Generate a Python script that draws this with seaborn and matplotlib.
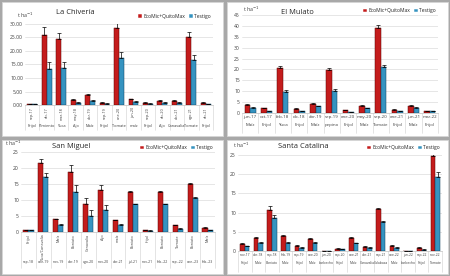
import numpy as np
import pandas as pd
import seaborn as sns
import matplotlib.pyplot as plt
from matplotlib.patches import Rectangle
import matplotlib.transforms as mtransforms

series = ["EcoMic+QuitoMax", "Testigo"]
colors = ["#e00000", "#1e9bd7"]
edges = ["#5a0000", "#0d3f5e"]

# La Chivería
chiv_dates = ["sep-17", "dic-17", "mar-18", "may-18", "abr-19", "sep-19", "ene-20",
              "jun-20", "sep-20", "dic-20", "abr-21", "ago-21", "dic-21"]
chiv_crops = ["Frijol", "Pimiento", "Yuca", "Ajo", "Maíz", "Frijol", "Tomate",
              "maíz", "Frijol", "Ajo", "Canavalia", "Tomate", "Frijol"]
chiv_eco = [0.4, 26.0, 24.5, 1.8, 3.7, 0.9, 28.5, 2.1, 0.9, 1.6, 1.5, 25.2, 0.9]
chiv_tes = [0.3, 13.3, 13.8, 0.9, 1.4, 0.5, 17.5, 1.2, 0.5, 0.8, 0.9, 16.7, 0.4]
chiv_eco_err = [0.1, 2.8, 2.3, 0.3, 0.3, 0.2, 2.2, 0.3, 0.2, 0.3, 0.2, 1.8, 0.2]
chiv_tes_err = [0.1, 2.8, 2.3, 0.2, 0.3, 0.1, 2.3, 0.2, 0.1, 0.2, 0.2, 1.8, 0.1]

# El Mulato
mul_dates = ["jun-17", "oct-17", "feb-18", "dic-18", "abr-19", "sep-19", "ene-20",
             "may-20", "sep-20", "ene-21", "jun-21", "mar-22"]
mul_crops = ["Maíz", "Frijol", "Yuca", "Frijol", "Maíz", "pepino", "Frijol",
             "Maíz", "Tomate", "Frijol", "Maíz", "Frijol"]
mul_eco = [3.8, 2.2, 20.5, 1.9, 4.1, 19.7, 1.3, 3.4, 39.2, 1.6, 3.2, 1.0]
mul_tes = [2.4, 0.9, 9.5, 1.0, 3.0, 10.0, 0.5, 2.1, 21.2, 0.9, 2.3, 0.8]
mul_eco_err = [0.3, 0.2, 1.0, 0.2, 0.3, 0.8, 0.2, 0.3, 1.0, 0.2, 0.3, 0.1]
mul_tes_err = [0.3, 0.1, 1.0, 0.1, 0.3, 0.8, 0.1, 0.2, 1.0, 0.1, 0.3, 0.1]

# San Miguel
sm_dates = ["sep-18", "ene-19", "nov-19", "abr-19", "ago-20", "nov-20", "abr-21",
            "jul-21", "nov-21", "feb.-22", "sep.-22", "ene.-23", "feb.-23"]
sm_crops = ["Frijol", "Yuca/Canavalia", "Maíz", "Boniato", "Canavalia", "Ajo", "maíz",
            "Boniato", "frijol", "Boniato", "Tomate", "Boniato", "Maíz"]
sm_eco = [0.5, 21.5, 4.0, 18.7, 8.8, 13.0, 3.6, 12.5, 0.5, 12.5, 2.1, 15.0, 1.4]
sm_tes = [0.5, 17.3, 2.3, 12.5, 5.0, 6.9, 2.2, 8.7, 0.4, 8.7, 1.0, 10.7, 0.5]
sm_eco_err = [0.1, 1.2, 0.2, 2.2, 1.8, 1.6, 0.2, 0.2, 0.1, 0.2, 0.1, 0.3, 0.2]
sm_tes_err = [0.1, 1.2, 0.2, 2.2, 1.8, 1.6, 0.2, 0.2, 0.1, 0.2, 0.1, 0.3, 0.1]

# Santa Catalina
sc_dates = ["nov-17", "abr-18", "sep-18", "feb-19", "sep-19", "ene-20", "jun-20", "sep-20",
            "ene-21", "abr-21", "sep-21", "ene-22", "jun-22", "sep-22", "nov-22"]
sc_crops = ["Frijol", "Maíz", "Boniato", "Maíz", "Frijol", "Maíz", "barbecho", "Frijol",
            "Maíz", "Canavalia", "Calabaza", "Maíz", "barbecho", "Frijol", "Tomate"]
sc_eco = [1.9, 3.5, 10.7, 3.8, 1.3, 3.1, 0.0, 0.6, 3.4, 1.1, 10.9, 1.3, 0.0, 0.9, 24.7]
sc_tes = [1.2, 2.2, 8.6, 2.0, 0.9, 2.2, 0.0, 0.4, 2.0, 0.9, 7.5, 0.9, 0.0, 0.3, 19.2]
sc_eco_err = [0.2, 0.2, 1.0, 0.3, 0.2, 0.2, 0.0, 0.1, 0.2, 0.2, 0.4, 0.2, 0.0, 0.1, 1.3]
sc_tes_err = [0.2, 0.2, 0.8, 0.3, 0.2, 0.2, 0.0, 0.1, 0.2, 0.1, 0.4, 0.1, 0.0, 0.1, 1.3]

sns.set_style("white")
plt.rcParams["font.family"] = ["Open Sans", "DejaVu Sans"]

fig = plt.figure(figsize=(4.5, 2.76), dpi=100)
fig.patch.set_facecolor("#a8a8a8")
W, H = 450, 276


def px(x0, y0, x1, y1):
    # pixel box -> figure fraction [left, bottom, width, height]
    return [x0 / W, 1 - y1 / H, (x1 - x0) / W, (y1 - y0) / H]


for box in [(2, 2, 223, 136), (227, 2, 448, 136), (2, 140, 223, 274), (227, 140, 448, 274)]:
    l, b, w, h = px(*box)
    fig.patches.append(Rectangle((l, b), w, h, transform=fig.transFigure,
                                 facecolor="white", edgecolor="#d6d6d6", lw=0.6, zorder=-5))


def panel(rect, title, title_xy, unit_xy, dates, crops, eco, tes, eco_err, tes_err,
          ymax, ystep, fmt, top_row, top_rot, sep_depth, bottom_off, leg_y, lab_fs=3.2):
    ax = fig.add_axes(px(*rect))
    ax.patch.set_alpha(0)
    n = len(dates)
    df = pd.DataFrame({
        "cat": list(range(n)) * 2,
        "val": eco + tes,
        "serie": [series[0]] * n + [series[1]] * n,
    })
    sns.barplot(data=df, x="cat", y="val", hue="serie", palette=colors, width=0.68,
                linewidth=0.35, ax=ax, zorder=2)
    for cont, err, ec in zip(ax.containers, [eco_err, tes_err], edges):
        for p in cont:
            p.set_edgecolor(ec)
        xs = [p.get_x() + p.get_width() / 2 for p in cont]
        hs = [p.get_height() for p in cont]
        ax.errorbar(xs, hs, yerr=[np.zeros(n), err], fmt="none", ecolor="black",
                    elinewidth=0.5, capsize=1.2, capthick=0.5, zorder=3)
    ax.set_ylim(0, ymax)
    ax.set_xlim(-0.5, n - 0.5)
    ax.set_yticks(np.arange(0, ymax + 0.01, ystep))
    ax.set_yticklabels([fmt.format(v) for v in np.arange(0, ymax + 0.01, ystep)], fontsize=3.6)
    ax.yaxis.grid(True, color="#dcdcdc", lw=0.5)
    ax.set_axisbelow(True)
    for s in ["left", "top", "right"]:
        ax.spines[s].set_visible(False)
    ax.spines["bottom"].set_color("#bfbfbf")
    ax.spines["bottom"].set_linewidth(0.5)
    ax.tick_params(axis="both", length=0, pad=1.5, colors="#404040")
    ax.set_xlabel("")
    ax.set_ylabel("")

    top = dates if top_row == "dates" else crops
    bottom = crops if top_row == "dates" else dates
    ax.set_xticks(range(n))
    ax.set_xticklabels(top, fontsize=2.7 if top_rot else lab_fs, rotation=top_rot,
                       va="top", ha="center")
    trans = mtransforms.blended_transform_factory(ax.transData, ax.transAxes)
    for i, lab in enumerate(bottom):
        ax.annotate(lab, xy=(i, 0), xycoords=trans, xytext=(0, -bottom_off),
                    textcoords="offset points", ha="center", va="top",
                    fontsize=lab_fs, color="#404040", annotation_clip=False)
    for i in range(n + 1):
        ax.plot([i - 0.5, i - 0.5], [0, -sep_depth], transform=trans, color="#d0d0d0",
                lw=0.4, clip_on=False)

    handles, labels = ax.get_legend_handles_labels()
    ax.legend(handles, labels, loc="lower right", bbox_to_anchor=(1.0, leg_y), ncol=2,
              frameon=False, fontsize=3.6, handlelength=0.7, handleheight=0.7,
              handletextpad=0.3, columnspacing=0.8, borderaxespad=0)
    fig.text(title_xy[0] / W, 1 - title_xy[1] / H, title, fontsize=5.4, ha="center",
             va="center", color="#262626")
    fig.text(unit_xy[0] / W, 1 - unit_xy[1] / H, "t ha$^{-1}$", fontsize=3.8,
             ha="left", va="center", color="#404040")
    return ax


panel((25, 24, 213, 105), "La Chivería", (75, 13), (17, 15), chiv_dates, chiv_crops,
      chiv_eco, chiv_tes, chiv_eco_err, chiv_tes_err, 30, 5, "{:.2f}",
      "dates", 90, 0.31, 14, 1.04, 2.8)
panel((242, 15, 438, 113), "El Mulato", (297, 12), (243, 9), mul_dates, mul_crops,
      mul_eco, mul_tes, mul_eco_err, mul_tes_err, 45, 5, "{:.0f}",
      "dates", 0, 0.2, 7, 1.0, 3.2)
panel((21, 152, 215, 232), "San Miguel", (71, 146), (5, 143), sm_dates, sm_crops,
      sm_eco, sm_tes, sm_eco_err, sm_tes_err, 25, 5, "{:.0f}",
      "crops", 90, 0.45, 20, 1.0, 2.5)
panel((238, 155, 442, 251), "Santa Catalina", (303, 147), (233, 145), sc_dates, sc_crops,
      sc_eco, sc_tes, sc_eco_err, sc_tes_err, 25, 5, "{:.0f}",
      "dates", 0, 0.22, 7, 1.03, 2.4)

fig.savefig("out.png", dpi=100, facecolor=fig.get_facecolor())
